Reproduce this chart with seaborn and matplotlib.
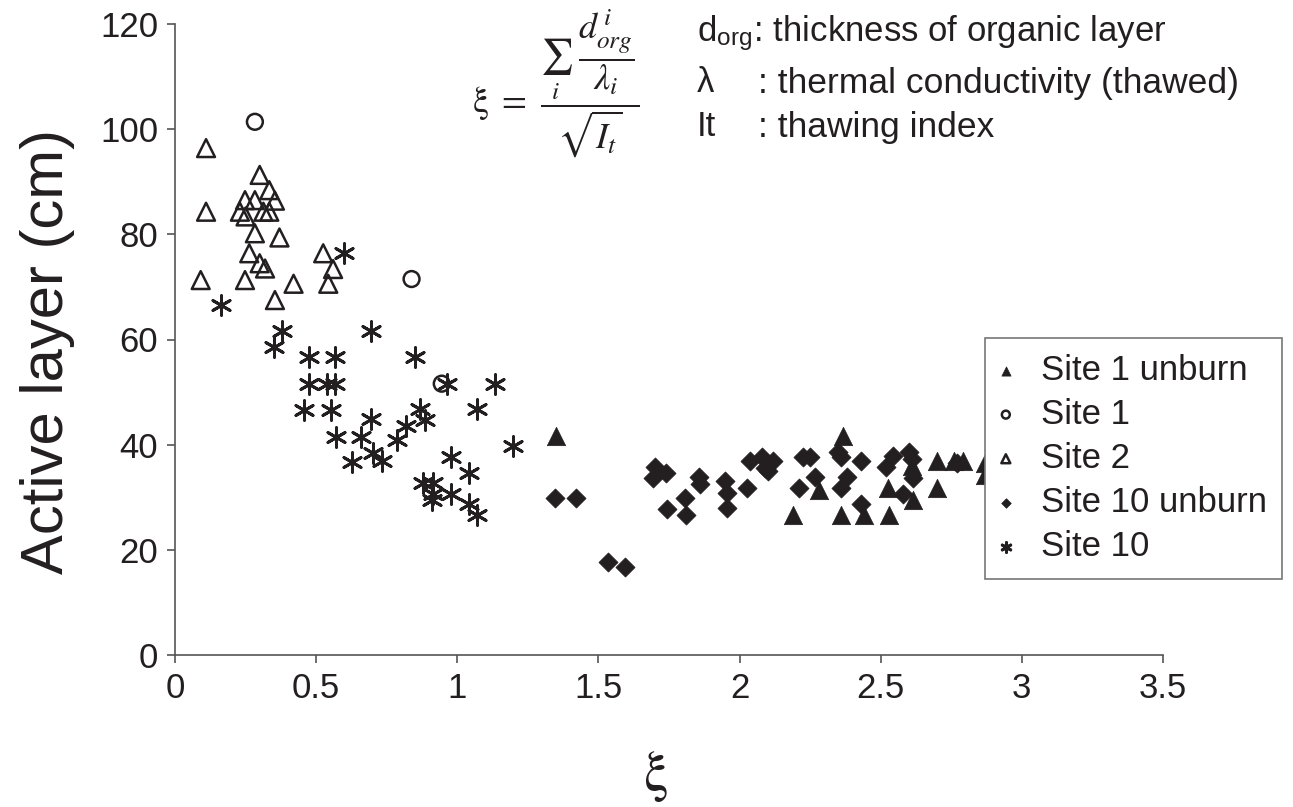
import numpy as np
import pandas as pd
import matplotlib
matplotlib.use("Agg")
import matplotlib.pyplot as plt
import seaborn as sns

# ---- data (xi, active layer depth in cm) ----
site1_unburn_x = [1.35, 2.19, 2.28, 2.365, 2.36, 2.44, 2.53, 2.527, 2.61, 2.613,
                  2.70, 2.70, 2.76, 2.79, 2.87, 2.87]
site1_unburn_y = [41.6, 26.6, 31.4, 41.6, 26.6, 26.6, 26.6, 31.7, 36.0, 29.5,
                  36.8, 31.7, 36.8, 36.8, 36.5, 34.3]

site1_x = [0.283, 0.838, 0.945]
site1_y = [101.4, 71.5, 51.6]

site2_x = [0.11, 0.30, 0.334, 0.248, 0.283, 0.354, 0.11, 0.23, 0.25, 0.313,
           0.334, 0.283, 0.37, 0.263, 0.525, 0.30, 0.319, 0.56, 0.091, 0.248,
           0.42, 0.543, 0.354]
site2_y = [96.4, 91.3, 88.4, 86.5, 86.5, 86.4, 84.3, 84.3, 83.4, 84.3,
           84.3, 80.2, 79.4, 76.4, 76.4, 74.5, 73.5, 73.4, 71.3, 71.3,
           70.6, 70.6, 67.5]

site10_unburn_x = [1.346, 1.42, 1.534, 1.594, 1.70, 1.739, 1.692, 1.742, 1.807, 1.81,
                   1.857, 1.86, 1.948, 1.956, 1.956, 2.027, 2.037, 2.078, 2.12, 2.10,
                   2.09, 2.226, 2.25, 2.21, 2.267, 2.35, 2.36, 2.38, 2.36, 2.43,
                   2.43, 2.52, 2.545, 2.60, 2.61, 2.615, 2.578, 2.77]
site10_unburn_y = [29.8, 29.8, 17.7, 16.7, 35.8, 34.7, 33.6, 27.7, 29.8, 26.6,
                   33.8, 32.5, 33.0, 30.9, 27.9, 31.7, 36.8, 37.7, 36.8, 34.9,
                   35.6, 37.7, 37.7, 31.7, 33.8, 38.7, 37.6, 33.8, 31.7, 36.8,
                   28.8, 35.7, 37.8, 38.7, 37.2, 33.6, 30.7, 36.6]

site10_x = [0.162, 0.35, 0.38, 0.476, 0.568, 0.599, 0.694, 0.85, 0.476, 0.54,
            0.568, 0.962, 1.134, 0.458, 0.553, 0.868, 0.886, 1.07, 0.694, 0.818,
            0.569, 0.66, 0.788, 0.70, 0.627, 0.732, 1.196, 0.977, 1.04, 0.88,
            0.913, 0.915, 0.909, 0.977, 1.04, 1.071]
site10_y = [66.6, 58.6, 61.6, 56.6, 56.6, 76.5, 61.6, 56.6, 51.6, 51.6,
            51.6, 51.6, 51.6, 46.6, 46.6, 46.7, 44.7, 46.7, 44.8, 43.5,
            41.5, 41.5, 40.8, 38.5, 36.7, 36.8, 39.7, 37.7, 34.7, 32.7,
            32.7, 30.7, 29.5, 30.7, 28.8, 26.7]

legend_order = ["Site 1 unburn", "Site 1", "Site 2", "Site 10 unburn", "Site 10"]

# ---- style ----
sns.set_style("ticks")
plt.rcParams["font.family"] = ["Liberation Sans", "DejaVu Sans"]
plt.rcParams["mathtext.fontset"] = "stix"
ink = "#231f20"

fig = plt.figure(figsize=(12.93, 8.07), dpi=100)
ax = fig.add_axes([175 / 1293, 1 - 655 / 807, (1163 - 175) / 1293, (655 - 24) / 807])

sns.scatterplot(x=site2_x, y=site2_y, marker="^", s=165, color=ink, facecolor="none",
                edgecolor=ink, linewidth=1.8, ax=ax, label="Site 2", zorder=3)
sns.scatterplot(x=site1_x, y=site1_y, marker="o", s=130, color=ink, facecolor="none",
                edgecolor=ink, linewidth=1.8, ax=ax, label="Site 1", zorder=3)
sns.scatterplot(x=site10_x, y=site10_y, marker=(6, 2, 0), s=200, color=ink,
                linewidth=2.1, ax=ax, label="Site 10", zorder=3)
sns.scatterplot(x=site10_unburn_x, y=site10_unburn_y, marker="D", s=95, color=ink,
                edgecolor=ink, linewidth=0.5, ax=ax, label="Site 10 unburn", zorder=3)
sns.scatterplot(x=site1_unburn_x, y=site1_unburn_y, marker="^", s=175, color=ink,
                edgecolor=ink, linewidth=0.5, ax=ax, label="Site 1 unburn", zorder=3)

ax.set_xlim(0, 3.5)
ax.set_ylim(0, 120)
ax.set_xticks(np.arange(0, 3.51, 0.5))
ax.set_xticklabels(["0", "0.5", "1", "1.5", "2", "2.5", "3", "3.5"])
ax.set_yticks(np.arange(0, 121, 20))
ax.tick_params(axis="both", direction="out", length=6, width=1.2, colors="#555555",
               labelcolor=ink, labelsize=25, pad=6)
for side in ["top", "right"]:
    ax.spines[side].set_visible(False)
for side in ["left", "bottom"]:
    ax.spines[side].set_color("#555555")
    ax.spines[side].set_linewidth(1.2)
ax.set_xlabel("")
ax.set_ylabel("")

fig.text(48 / 1293, 1 - 352 / 807, "Active layer (cm)", rotation=90, fontsize=43,
         color=ink, ha="center", va="center")
fig.text(655 / 1293, 1 - 776 / 807, r"$\mathrm{\xi}$", fontsize=40, color=ink,
         ha="center", va="center")

# formula and its legend
fig.text(556 / 1293, 1 - 84 / 807,
         r"$\mathrm{\xi}\ =\ \dfrac{\sum_{i}\ \dfrac{d^{\,i}_{org}}{\lambda_i}}{\sqrt{I_t}}$",
         fontsize=26, color=ink, ha="center", va="center")
fig.text(697 / 1293, 1 - 33 / 807, r"d$_{\mathregular{org}}$: thickness of organic layer",
         fontsize=25, color=ink, ha="left", va="center")
fig.text(697 / 1293, 1 - 83 / 807, "λ", fontsize=25, color=ink, ha="left", va="center")
fig.text(758 / 1293, 1 - 83 / 807, ": thermal conductivity (thawed)", fontsize=25.5,
         color=ink, ha="left", va="center")
fig.text(697 / 1293, 1 - 127 / 807, "It", fontsize=25, color=ink, ha="left", va="center")
fig.text(758 / 1293, 1 - 127 / 807, ": thawing index", fontsize=25.5, color=ink,
         ha="left", va="center")

handles, labels = ax.get_legend_handles_labels()
lookup = dict(zip(labels, handles))
leg = ax.legend([lookup[k] for k in legend_order], legend_order,
                loc="upper left", bbox_to_anchor=(985 / 1293, 1 - 338 / 807),
                bbox_transform=fig.transFigure, borderaxespad=0,
                fontsize=25, markerscale=0.5, handletextpad=0.85, handlelength=0.3,
                borderpad=0.45, labelspacing=0.32, frameon=True, fancybox=False,
                framealpha=1, edgecolor="#777777")
leg.get_frame().set_linewidth(1.2)
leg.set_zorder(10)
for t in leg.get_texts():
    t.set_color(ink)

fig.savefig("out.png", dpi=100)
